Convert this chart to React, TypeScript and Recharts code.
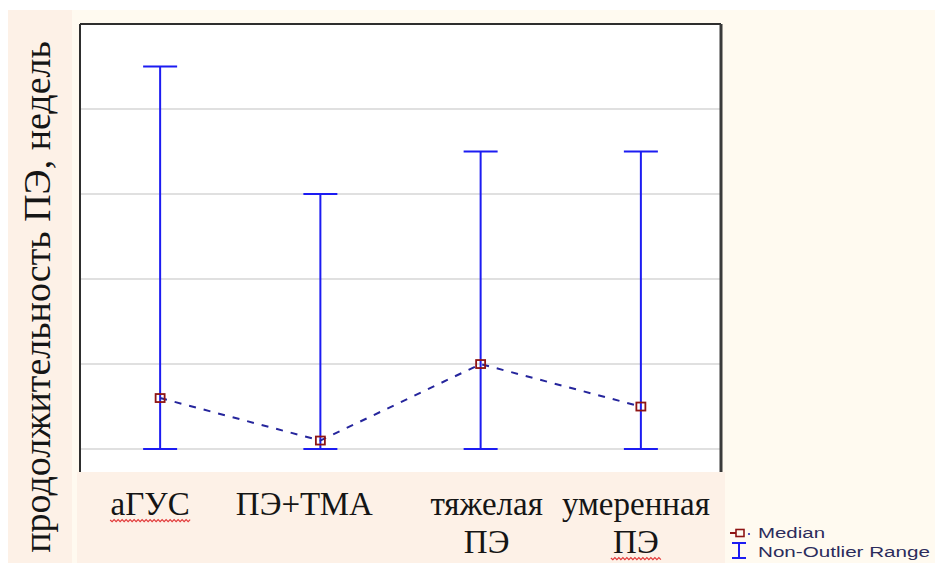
import * as React from 'react';
import { ComposedChart, Line, ErrorBar, XAxis, YAxis, ReferenceLine, Customized } from 'recharts';

// groups of patients and duration of PE (weeks): median and non-outlier range
const groups: string[] = ['аГУС', 'ПЭ+ТМА', 'тяжелая ПЭ', 'умеренная ПЭ'];
const medians: number[] = [1.2, 0.2, 2, 1];
const rangeMin: number[] = [0, 0, 0, 0];
const rangeMax: number[] = [9, 6, 7, 7];
const gridTicks: number[] = [0, 2, 4, 6, 8, 10];

const yTitle = 'продолжительность ПЭ, недель';
const legendItems = ['Median', 'Non-Outlier Range'];

const rows = groups.map((g, i) => ({
  group: g,
  median: medians[i],
  range: [medians[i] - rangeMin[i], rangeMax[i] - medians[i]],
}));

const W = 935;
const H = 563;
const serif = "'Liberation Serif', 'Times New Roman', serif";
const sans = "'Liberation Sans', Arial, sans-serif";
const whiskerBlue = '#1c1cf2';
const medianRed = '#8e1414';
const yDomain: [number, number] = [-0.54, 10];

// label nudges, like the table cells the captions sit in
const labelShift = [-10, -16, 6, -5];
// red spell-check wave: [group, line, width]
const waves: [number, number, number][] = [[0, 0, 80], [3, 1, 50]];

const wavePath = (x0: number, y0: number, w: number) => {
  let d = `M${x0},${y0}`;
  for (let k = 1; k * 2 <= w; k++) {
    d += ` L${x0 + k * 2},${y0 + (k % 2 ? 1.6 : -0.4)}`;
  }
  return d;
};

const GroupTick = (props: any) => {
  const { x, y, payload } = props;
  const idx = groups.indexOf(payload.value);
  const lines = String(payload.value).split(' ');
  const cx = x + (labelShift[idx] || 0);
  return (
    <g>
      {lines.map((t, i) => (
        <text key={i} x={cx} y={y + 43 + i * 38} textAnchor="middle"
          fontFamily={serif} fontSize={33} fill="#151515">{t}</text>
      ))}
      {waves.filter((w) => w[0] === idx).map((w, i) => (
        <path key={'w' + i} d={wavePath(cx - w[2] / 2, y + 48 + w[1] * 38, w[2])}
          stroke="#e23a3a" strokeWidth={1.2} fill="none" />
      ))}
    </g>
  );
};

const MedianDot = (props: any) => {
  const { cx, cy, index } = props;
  if (cx == null || cy == null) return <g key={index} />;
  return (
    <rect key={index} x={cx - 4.5} y={cy - 4} width={9} height={8}
      fill="none" stroke={medianRed} strokeWidth={1.8} />
  );
};

const Decorations = () => (
  <g>
    <text transform="rotate(-90, 50, 297)" x={50} y={297} textAnchor="middle"
      fontFamily={serif} fontSize={38} fill="#151515">{yTitle}</text>
    {/* legend */}
    <line x1={730} y1={533} x2={736} y2={533} stroke={medianRed} strokeWidth={2} />
    <rect x={736} y={529.5} width={8} height={7} fill="none" stroke={medianRed} strokeWidth={1.6} />
    <circle cx={749} cy={534} r={1.1} fill="#2b2bb0" />
    <text x={758} y={538} fontFamily={sans} fontSize={14} fill="#2c2c5c"
      textLength={67} lengthAdjust="spacingAndGlyphs">{legendItems[0]}</text>
    <line x1={732} y1={543} x2={746} y2={543} stroke={whiskerBlue} strokeWidth={2} />
    <line x1={739} y1={543} x2={739} y2={558} stroke={whiskerBlue} strokeWidth={2} />
    <line x1={732} y1={558} x2={746} y2={558} stroke={whiskerBlue} strokeWidth={2} />
    <text x={758} y={557} fontFamily={sans} fontSize={14} fill="#2c2c5c"
      textLength={172} lengthAdjust="spacingAndGlyphs">{legendItems[1]}</text>
  </g>
);

const frame = { stroke: '#2e2e2e', strokeWidth: 2 };
const tickStroke = { stroke: '#2e2e2e', strokeWidth: 1.5 };

export default function App() {
  return (
    <div style={{ position: 'absolute', left: 0, top: 0, width: W, height: H, background: '#fff', overflow: 'hidden' }}>
      <div style={{ position: 'absolute', left: 8, top: 10, width: W - 8, height: H - 10, background: '#fffaf0' }} />
      <div style={{ position: 'absolute', left: 8, top: 10, width: 64, height: H - 10, background: '#fdf1e7' }} />
      <div style={{ position: 'absolute', left: 77, top: 472, width: 648, height: H - 472, background: '#fdf1e7' }} />
      <div style={{ position: 'absolute', left: 81, top: 25, width: 639, height: 447, background: '#fff' }} />
      <div style={{ position: 'absolute', left: 0, top: 0 }}>
        <ComposedChart width={W} height={H} data={rows}
          margin={{ top: 24, right: 214, bottom: 0, left: 80 }}>
          {gridTicks.map((t) => (
            <ReferenceLine key={t} y={t} stroke="#d6d6d6" strokeWidth={1.5} ifOverflow="visible" />
          ))}
          <XAxis dataKey="group" scale="band" height={91} axisLine={false} tickLine={false}
            tickSize={0} tickMargin={0} interval={0} tick={<GroupTick />} />
          <XAxis xAxisId="top" dataKey="group" scale="band" orientation="top" height={1} mirror
            tick={false} tickSize={4} axisLine={frame} tickLine={tickStroke} />
          <YAxis domain={yDomain} ticks={gridTicks} allowDataOverflow width={1} mirror
            tick={false} tickSize={5} axisLine={frame} tickLine={tickStroke} />
          <YAxis yAxisId="right" orientation="right" domain={yDomain} ticks={gridTicks}
            allowDataOverflow width={1} mirror tick={false} tickSize={4}
            axisLine={{ stroke: '#3a3a3a', strokeWidth: 3 }} tickLine={tickStroke} />
          <Line type="linear" dataKey="median" stroke="#25259c" strokeWidth={2}
            strokeDasharray="7 8" dot={MedianDot} activeDot={false} isAnimationActive={false}>
            <ErrorBar dataKey="range" direction="y" width={17} stroke={whiskerBlue}
              strokeWidth={2} isAnimationActive={false} />
          </Line>
          <Customized component={Decorations} />
        </ComposedChart>
      </div>
    </div>
  );
}
